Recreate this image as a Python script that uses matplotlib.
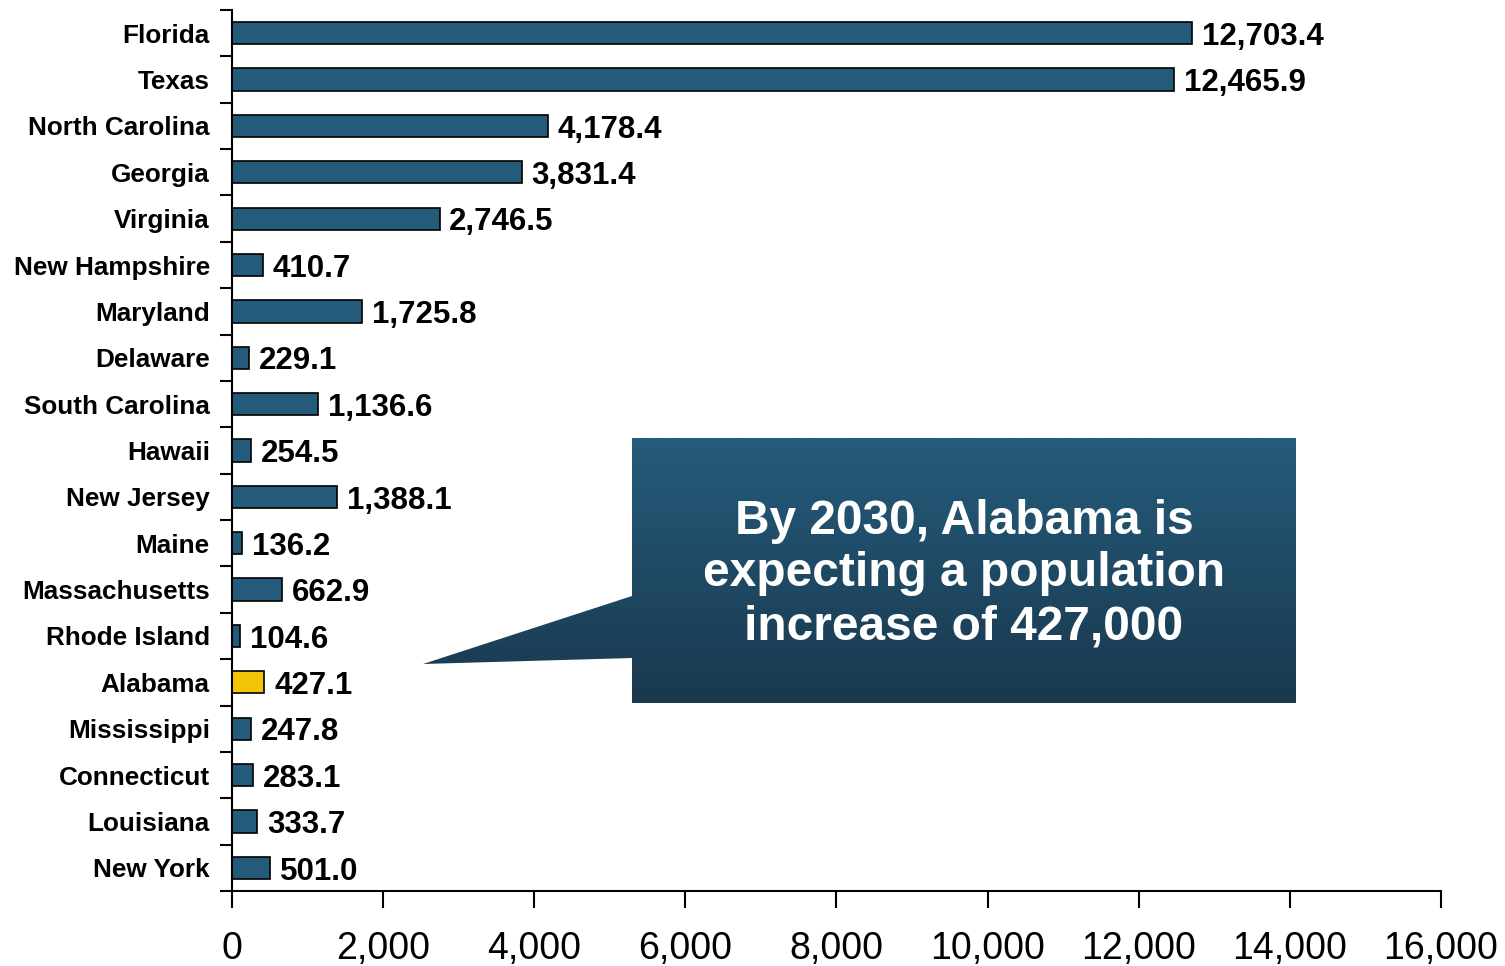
import numpy as np
import matplotlib.pyplot as plt
from matplotlib.patches import Polygon
from matplotlib.ticker import FuncFormatter

# ======================================
# data
# ======================================
states = ["Florida", "Texas", "North Carolina", "Georgia", "Virginia",
          "New Hampshire", "Maryland", "Delaware", "South Carolina", "Hawaii",
          "New Jersey", "Maine", "Massachusetts", "Rhode Island", "Alabama",
          "Mississippi", "Connecticut", "Louisiana", "New York"]
growth = [12703.4, 12465.9, 4178.4, 3831.4, 2746.5,
          410.7, 1725.8, 229.1, 1136.6, 254.5,
          1388.1, 136.2, 662.9, 104.6, 427.1,
          247.8, 283.1, 333.7, 501.0]
highlight = "Alabama"
x_ticks = [0, 2000, 4000, 6000, 8000, 10000, 12000, 14000, 16000]
callout = "By 2030, Alabama is\nexpecting a population\nincrease of 427,000"

bar_color = "#245b7a"
hi_color = "#f1c40a"

plt.rcParams['font.family'] = ['Liberation Sans', 'DejaVu Sans']

W, H = 1505, 966
fig = plt.figure(figsize=(W / 100, H / 100), dpi=100)
ax = fig.add_axes([232 / W, 1 - 891 / H, (1441 - 232) / W, (891 - 10) / H])

ypos = np.arange(len(states))
colors = [hi_color if s == highlight else bar_color for s in states]
ax.barh(ypos, growth, height=0.48, color=colors, edgecolor="black", linewidth=1.2, zorder=2)

for y, v in zip(ypos, growth):
    ax.text(v + 130, y + 0.08, f"{v:,.1f}", va="center", ha="left",
            fontsize=22.5, fontweight="bold", color="black")

ax.set_ylim(len(states) - 0.5, -0.5)
ax.set_xlim(0, 16000)
ax.set_yticks(ypos)
ax.set_yticklabels(states, fontsize=18.8, fontweight="bold")
ax.set_yticks(np.arange(len(states) + 1) - 0.5, minor=True)
ax.tick_params(axis="y", which="major", length=0, pad=16)
ax.tick_params(axis="y", which="minor", length=9, width=1.5, direction="out")
ax.set_xticks(x_ticks)
ax.xaxis.set_major_formatter(FuncFormatter(lambda v, p: f"{v:,.0f}"))
ax.tick_params(axis="x", length=12, width=1.5, direction="out", labelsize=27, pad=17)

for side in ["top", "right"]:
    ax.spines[side].set_visible(False)
for side in ["left", "bottom"]:
    ax.spines[side].set_linewidth(1.5)

# ======================================
# callout box with pointer (figure pixels)
# ======================================
ov = fig.add_axes([0, 0, 1, 1], zorder=5)
ov.set_xlim(0, W)
ov.set_ylim(H, 0)
ov.axis("off")

bx0, bx1, by0, by1 = 632, 1296, 438, 703
shape = Polygon([(bx0, by0), (bx1, by0), (bx1, by1), (bx0, by1),
                 (bx0, 658), (423, 664), (bx0, 596)],
                closed=True, facecolor="none", edgecolor="none")
ov.add_patch(shape)

top = np.array([0x24, 0x5c, 0x7b]) / 255
bot = np.array([0x1a, 0x38, 0x4e]) / 255
t = np.linspace(0, 1, 256)[:, None]
grad = (top[None, :] * (1 - t) + bot[None, :] * t)[:, None, :]
img = ov.imshow(grad, extent=(400, bx1, by1, by0), aspect="auto",
                interpolation="bilinear")
img.set_clip_path(shape)

ov.text((bx0 + bx1) / 2, 574, callout, ha="center", va="center",
        color="white", fontsize=34.5, fontweight="bold", linespacing=1.22)

fig.savefig("out.png", dpi=100)
